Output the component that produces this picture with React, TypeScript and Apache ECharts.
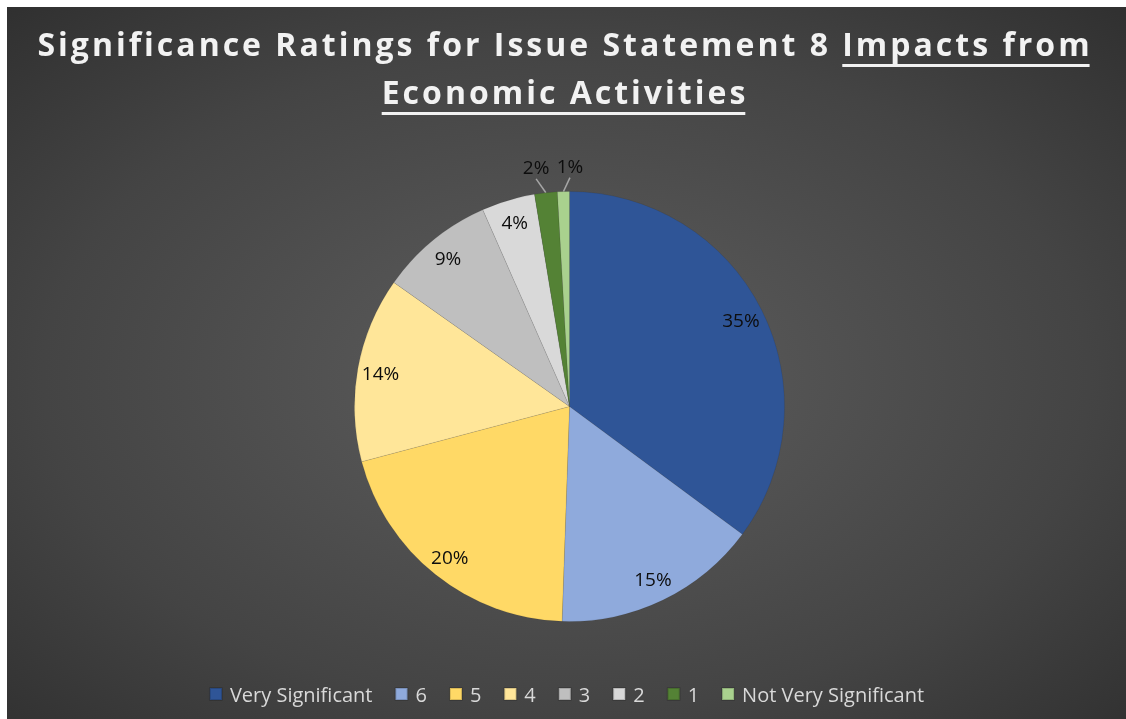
import React, { useEffect, useRef } from "react";
import * as echarts from "echarts";

const titleLine1Plain = "Significance Ratings for Issue Statement 8 ";
const titleLine1Under = "Impacts from";
const titleLine2Under = "Economic Activities";

const categories = ["Very Significant", "6", "5", "4", "3", "2", "1", "Not Very Significant"];
const values = [35.1, 15.4, 20.3, 13.9, 8.6, 4.0, 1.7, 0.9];
const colors = ["#2F5597", "#8FAADC", "#FFD966", "#FFE699", "#BFBFBF", "#D9D9D9", "#548235", "#A9D18E"];
const outsideLabelNames = ["1", "Not Very Significant"];

const W = 1119;
const H = 712;
const TITLE_SIZE = 32;
const TITLE_FONT = `bold ${TITLE_SIZE}px "Open Sans"`;
const TITLE_SPACING = 3;

function measure(text: string, font: string, spacing: number): number {
  const c = document.createElement("canvas");
  const ctx = c.getContext("2d")!;
  ctx.font = font;
  return ctx.measureText(text).width + spacing * text.length;
}

export default function App() {
  const ref = useRef<HTMLDivElement>(null);

  useEffect(() => {
    if (!ref.current) return;
    const styleEl = document.createElement("style");
    styleEl.textContent = `#root text[style*="${TITLE_SIZE}px"] { letter-spacing: ${TITLE_SPACING}px; }`;
    document.head.appendChild(styleEl);

    const chart = echarts.init(ref.current, undefined, { renderer: "svg" });

    const cx = W / 2 - 3;
    const w1a = measure(titleLine1Plain, TITLE_FONT, TITLE_SPACING);
    const w1b = measure(titleLine1Under, TITLE_FONT, TITLE_SPACING);
    const w2 = measure(titleLine2Under, TITLE_FONT, TITLE_SPACING);
    const x1 = cx - (w1a + w1b - TITLE_SPACING) / 2;
    const x2 = cx - (w2 - TITLE_SPACING) / 2;
    const y1 = 36;
    const y2 = 84;
    const titleStyle = {
      fill: "#f2f2f2",
      fontFamily: "Open Sans",
      fontWeight: "bold",
      fontSize: TITLE_SIZE,
      verticalAlign: "middle",
      align: "left",
    };

    const fmt = (p: any) => Math.round(p.percent) + "%";

    const mainData = categories.map((name, i) => ({
      name,
      value: values[i],
      itemStyle: { color: colors[i] },
      label: { show: outsideLabelNames.includes(name) },
      labelLine: { show: outsideLabelNames.includes(name) },
    }));
    const ringData = categories.map((name, i) => ({
      name,
      value: values[i],
      label: { show: !outsideLabelNames.includes(name) },
    }));

    chart.setOption({
      animation: false,
      graphic: [
        {
          type: "rect",
          z: -10,
          silent: true,
          shape: { x: 0, y: 0, width: W, height: H },
          style: {
            fill: new echarts.graphic.RadialGradient(0.5, 0.52, 0.85, [
              { offset: 0, color: "#5e5e5e" },
              { offset: 0.55, color: "#444444" },
              { offset: 1, color: "#262626" },
            ]),
          },
        },
        { type: "text", x: x1, y: y1, style: { ...titleStyle, text: titleLine1Plain } },
        { type: "text", x: x1 + w1a, y: y1, style: { ...titleStyle, text: titleLine1Under } },
        { type: "rect", shape: { x: x1 + w1a, y: 57, width: w1b - TITLE_SPACING, height: 3 }, style: { fill: "#f2f2f2" } },
        { type: "text", x: x2, y: y2, style: { ...titleStyle, text: titleLine2Under } },
        { type: "rect", shape: { x: x2, y: 105, width: w2 - TITLE_SPACING, height: 3 }, style: { fill: "#f2f2f2" } },
      ],
      legend: {
        data: categories,
        bottom: 10,
        left: "center",
        icon: "rect",
        itemWidth: 12,
        itemHeight: 12,
        itemGap: 22,
        textStyle: { color: "#d9d9d9", fontSize: 20, fontFamily: "Open Sans", padding: [0, 0, 0, 3] },
      },
      series: [
        {
          type: "pie",
          center: [562.5, 399.5],
          radius: 215,
          startAngle: 90,
          clockwise: true,
          avoidLabelOverlap: false,
          itemStyle: { borderColor: "rgba(0,0,0,0.15)", borderWidth: 0.5 },
          label: {
            position: "outside",
            formatter: fmt,
            color: "#0d0d0d",
            fontSize: 19,
            fontFamily: "Open Sans",
          },
          labelLine: { length: 16, length2: 0, lineStyle: { color: "#a6a6a6", width: 1.5 } },
          labelLayout: (params: any) => {
            const pts = params.labelLinePoints;
            if (!pts || pts.length < 2) return {};
            const p0 = pts[0];
            const p1 = pts[1];
            const off = params.dataIndex === 6 ? -8 : 7;
            const ex = p1[0] + off;
            const ey = p1[1] + 2;
            return {
              x: ex,
              y: ey - 2,
              align: "center",
              verticalAlign: "bottom",
              labelLinePoints: [p0, [ex, ey], [ex, ey]],
            };
          },
          emphasis: { disabled: true },
          data: mainData,
        },
        {
          type: "pie",
          center: [562.5, 399.5],
          radius: [163, 215],
          startAngle: 90,
          clockwise: true,
          silent: true,
          legendHoverLink: false,
          itemStyle: { color: "rgba(0,0,0,0)" },
          label: {
            position: "inside",
            formatter: fmt,
            color: "#0d0d0d",
            fontSize: 19,
            fontFamily: "Open Sans",
          },
          labelLine: { show: false },
          emphasis: { disabled: true },
          data: ringData,
        },
      ],
    });
    return () => {
      chart.dispose();
      styleEl.remove();
    };
  }, []);

  return (
    <div
      ref={ref}
      style={{ position: "fixed", left: 7, top: 7, width: W, height: H }}
    />
  );
}
